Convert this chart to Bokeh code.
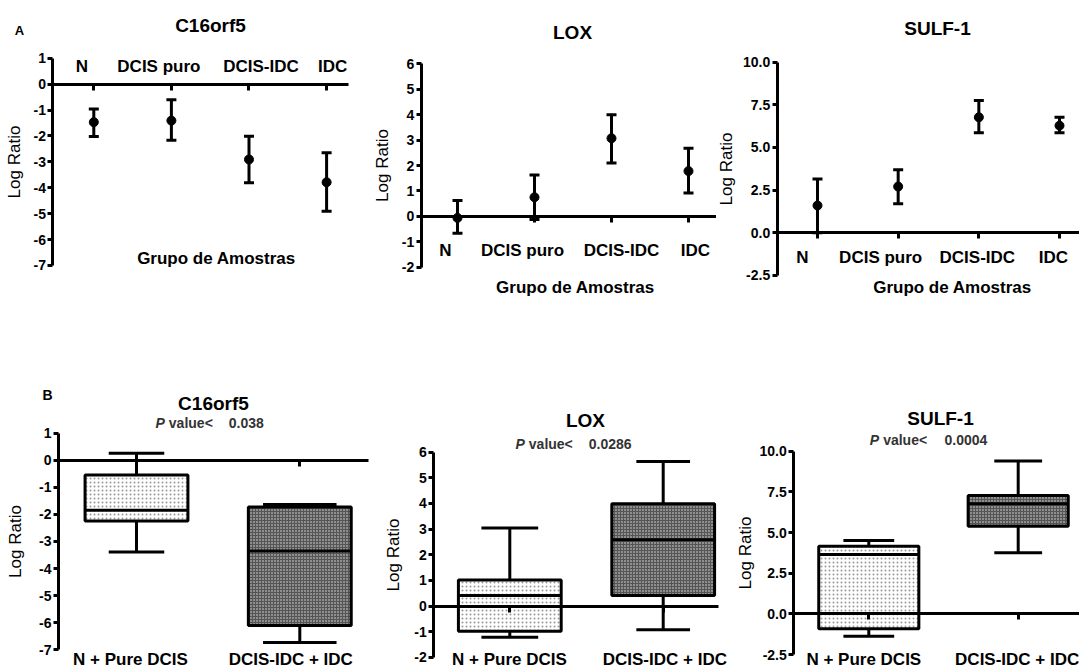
import numpy as np
from bokeh.plotting import figure
from bokeh.models import (Range1d, LinearAxis, FixedTicker, Label, Whisker,
                          ColumnDataSource, TeeHead)
from bokeh.layouts import column, row
from bokeh.embed import file_html
from bokeh.resources import INLINE
from bokeh.core.properties import value

FONT = "Liberation Sans"

# ---------------- data: panel A (mean +/- error) ----------------
groups_a = ["N", "DCIS puro", "DCIS-IDC", "IDC"]

c16_mean = [-1.47, -1.41, -2.91, -3.79]
c16_upper = [-0.96, -0.60, -2.01, -2.65]
c16_lower = [-2.02, -2.17, -3.81, -4.91]

lox_mean = [-0.06, 0.75, 3.07, 1.78]
lox_upper = [0.62, 1.63, 4.00, 2.68]
lox_lower = [-0.66, -0.12, 2.10, 0.92]

sulf_mean = [1.60, 2.71, 6.77, 6.28]
sulf_upper = [3.16, 3.69, 7.75, 6.77]
sulf_lower = [0.00, 1.70, 5.86, 5.86]

# ---------------- data: panel B (box plots) ----------------
groups_b_c16 = ["N + Pure DCIS", "DCIS-IDC + IDC"]
groups_b_lox = ["N +  Pure DCIS", "DCIS-IDC  + IDC"]
groups_b_sulf = ["N + Pure DCIS", "DCIS-IDC + IDC"]

c16_b_max = [0.26, -1.63]
c16_b_q3 = [-0.54, -1.73]
c16_b_med = [-1.85, -3.35]
c16_b_q1 = [-2.24, -6.10]
c16_b_min = [-3.39, -6.73]

lox_b_max = [3.04, 5.64]
lox_b_q3 = [1.02, 3.99]
lox_b_med = [0.41, 2.59]
lox_b_q1 = [-0.98, 0.41]
lox_b_min = [-1.22, -0.93]

sulf_b_max = [4.51, 9.39]
sulf_b_q3 = [4.16, 7.28]
sulf_b_med = [3.65, 6.77]
sulf_b_q1 = [-0.92, 5.39]
sulf_b_min = [-1.37, 3.75]

p_values = ["0.038", "0.0286", "0.0004"]

# ---------------- tick labels ----------------
c16_ticks = [1, 0, -1, -2, -3, -4, -5, -6, -7]
c16_tick_labels = ["1", "0", "-1", "-2", "-3", "-4", "-5", "-6", "-7"]
lox_ticks = [6, 5, 4, 3, 2, 1, 0, -1, -2]
lox_tick_labels = ["6", "5", "4", "3", "2", "1", "0", "-1", "-2"]
sulf_ticks = [10, 7.5, 5, 2.5, 0, -2.5]
sulf_tick_labels = ["10.0", "7.5", "5.0", "2.5", "0.0", "-2.5"]


def base_fig(w, h, xr, yr, yax_at, ticks, tick_labels, ylab_standoff):
    p = figure(width=w, height=h, x_range=Range1d(*xr), y_range=Range1d(*yr),
               x_axis_type=None, y_axis_type=None, toolbar_location=None,
               output_backend="svg", min_border_left=0, min_border_right=0,
               min_border_top=0, min_border_bottom=0, outline_line_color=None,
               background_fill_color="white", border_fill_color="white")
    yax = LinearAxis(fixed_location=yax_at, ticker=FixedTicker(ticks=ticks),
                     bounds=(min(ticks), max(ticks)),
                     major_label_overrides={t: s for t, s in zip(ticks, tick_labels)},
                     axis_label="Log Ratio", axis_label_standoff=ylab_standoff,
                     axis_label_text_font=FONT, axis_label_text_font_size="17px",
                     axis_label_text_font_style="normal", axis_label_text_color="black",
                     major_label_text_font=FONT, major_label_text_font_size="14px",
                     major_label_text_font_style="bold", major_label_text_color="black",
                     major_label_standoff=2, axis_line_width=3, axis_line_color="black",
                     major_tick_line_width=3, major_tick_line_color="black",
                     major_tick_out=5, major_tick_in=0, minor_tick_line_color=None)
    p.add_layout(yax, "left")
    return p


def cat_axis(p, side, n, bounds, tick_in, tick_out):
    ax = LinearAxis(fixed_location=0, ticker=FixedTicker(ticks=list(range(n))),
                    bounds=bounds,
                    major_label_overrides={i: "" for i in range(n)},
                    axis_line_width=3, axis_line_color="black",
                    major_tick_line_width=3, major_tick_line_color="black",
                    major_tick_in=tick_in, major_tick_out=tick_out,
                    minor_tick_line_color=None)
    p.add_layout(ax, side)


def cat_labels(p, cats, y, offsets, size):
    src = ColumnDataSource(dict(x=list(range(len(cats))), y=[y] * len(cats),
                                t=cats, dx=offsets))
    p.text(x="x", y="y", text="t", x_offset="dx", source=src,
           text_font=value(FONT), text_font_size=value(size), text_font_style="bold",
           text_align="center", text_baseline="middle", text_color="black")


def label(p, x, y, text, size, style="bold", align="center", color="black", x_offset=0):
    p.add_layout(Label(x=x, y=y, text=text, text_font=FONT, text_font_size=size,
                       text_font_style=style, text_align=align, text_baseline="middle",
                       text_color=color, x_offset=x_offset))


def err_panel(p, mean, upper, lower):
    src = ColumnDataSource(dict(x=list(range(len(mean))), m=mean, u=upper, l=lower))
    p.add_layout(Whisker(source=src, base="x", upper="u", lower="l",
                         line_width=3, line_color="black",
                         upper_head=TeeHead(size=10, line_width=3, line_color="black"),
                         lower_head=TeeHead(size=10, line_width=3, line_color="black")))
    p.scatter("x", "m", source=src, size=9, color="black")


def box_panel(p, q1, q3, med, lo, hi, bw, cw):
    x = np.arange(len(q1), dtype=float)
    cw = np.array(cw)
    src = ColumnDataSource(dict(
        x=x, q1=q1, q3=q3, med=med, lo=lo, hi=hi,
        left=x - bw / 2, right=x + bw / 2, cl=x - cw / 2, cr=x + cw / 2,
        fill=["white", "#555555"], hatch=["dot", "dot"],
        hcolor=["#555555", "white"], hscale=[4, 3], halpha=[0.6, 0.85]))
    p.segment(x0="x", x1="x", y0="q3", y1="hi", source=src, line_width=3, line_color="black")
    p.segment(x0="x", x1="x", y0="q1", y1="lo", source=src, line_width=3, line_color="black")
    p.segment(x0="cl", x1="cr", y0="hi", y1="hi", source=src, line_width=3, line_color="black")
    p.segment(x0="cl", x1="cr", y0="lo", y1="lo", source=src, line_width=3, line_color="black")
    p.quad(left="left", right="right", top="q3", bottom="q1", source=src,
           fill_color="fill", hatch_pattern="hatch", hatch_color="hcolor",
           hatch_scale="hscale", hatch_alpha="halpha", hatch_weight=1,
           line_color="black", line_width=3)
    p.segment(x0="left", x1="right", y0="med", y1="med", source=src,
              line_width=3, line_color="black")


def pval(p, xv, xn, y, num):
    label(p, xv, y, "P", "14px", style="bold italic", align="right", color="#333333", x_offset=-4)
    label(p, xv, y, "value<", "14px", align="left", color="#333333")
    label(p, xn, y, num, "14px", align="left", color="#333333")


# ---------------- A1: C16orf5 ----------------
a1 = base_fig(360, 340, (-1.2023, 3.4369), (-9.8996, 3.2278), -0.5258,
              c16_ticks, c16_tick_labels, 6)
cat_axis(a1, "above", len(groups_a), (-0.5258, 3.282), 6, 0)
err_panel(a1, c16_mean, c16_upper, c16_lower)
cat_labels(a1, groups_a, 0.68, [-12, -12.5, 12, 6], "17px")
label(a1, 1.504, 2.26, "C16orf5", "19px")
label(a1, 1.581, -6.73, "Grupo de Amostras", "17px")
label(a1, -0.9575, 2.07, "A", "13px")

# ---------------- A2: LOX ----------------
a2 = base_fig(356, 340, (-1.2597, 3.3636), (-4.8830, 8.4897), -0.4714,
              lox_ticks, lox_tick_labels, 7)
cat_axis(a2, "below", len(groups_a), (-0.4714, 3.3636), 0, 6)
err_panel(a2, lox_mean, lox_upper, lox_lower)
cat_labels(a2, groups_a, -1.343, [-12, -12, 10, 7], "17px")
label(a2, 1.494, 7.23, "LOX", "19px")
label(a2, 1.532, -2.80, "Grupo de Amostras", "17px")

# ---------------- A3: SULF-1 ----------------
a3 = base_fig(363, 340, (-1.2520, 3.2478), (-6.3115, 13.6135), -0.4996,
              sulf_ticks, sulf_tick_labels, 4)
cat_axis(a3, "below", len(groups_a), (-0.4996, 3.2478), 0, 6)
err_panel(a3, sulf_mean, sulf_upper, sulf_lower)
cat_labels(a3, groups_a, -1.447, [-15, -17.5, -1.5, -6], "17px")
label(a3, 1.4875, 11.97, "SULF-1", "19px")
label(a3, 1.6735, -3.206, "Grupo de Amostras", "17px")

# ---------------- B1: C16orf5 ----------------
b1 = base_fig(380, 330, (-0.8328, 1.4942), (-7.7666, 4.4240), -0.4776,
              c16_ticks, c16_tick_labels, 11)
box_panel(b1, c16_b_q1, c16_b_q3, c16_b_med, c16_b_min, c16_b_max, 0.63, [0.34, 0.45])
cat_axis(b1, "below", len(groups_b_c16), (-0.4776, 1.4207), 0, 6)
cat_labels(b1, groups_b_c16, -7.36, [-6, -9], "17px")
label(b1, 0.4715, 2.108, "C16orf5", "19px")
pval(b1, 0.198, 0.565, 1.37, p_values[0])
label(b1, -0.545, 2.393, "B", "14px")

# ---------------- B2: LOX ----------------
b2 = base_fig(355, 330, (-0.8429, 1.4713), (-2.5151, 10.3590), -0.4954,
              lox_ticks, lox_tick_labels, 8)
box_panel(b2, lox_b_q1, lox_b_q3, lox_b_med, lox_b_min, lox_b_max, 0.67, [0.37, 0.35])
cat_axis(b2, "below", len(groups_b_lox), (-0.4954, 1.3605), 0, 6)
cat_labels(b2, groups_b_lox, -2.10, [2, 4], "17px")
label(b2, 0.4935, 7.237, "LOX", "19px")
pval(b2, 0.124, 0.515, 6.32, p_values[1])

# ---------------- B3: SULF-1 ----------------
b3 = base_fig(344, 330, (-0.8922, 1.4103), (-3.4835, 16.8064), -0.5020,
              sulf_ticks, sulf_tick_labels, 1)
box_panel(b3, sulf_b_q1, sulf_b_q3, sulf_b_med, sulf_b_min, sulf_b_max, 0.67, [0.34, 0.32])
cat_axis(b3, "below", len(groups_b_sulf), (-0.5020, 1.4103), 0, 6)
cat_labels(b3, groups_b_sulf, -2.82, [-5, -1], "17px")
label(b3, 0.48, 11.99, "SULF-1", "19px")
pval(b3, 0.096, 0.507, 10.66, p_values[2])

layout = column(row(a1, a2, a3), row(b1, b2, b3))
open("out.html", "w").write(file_html(layout, INLINE))
